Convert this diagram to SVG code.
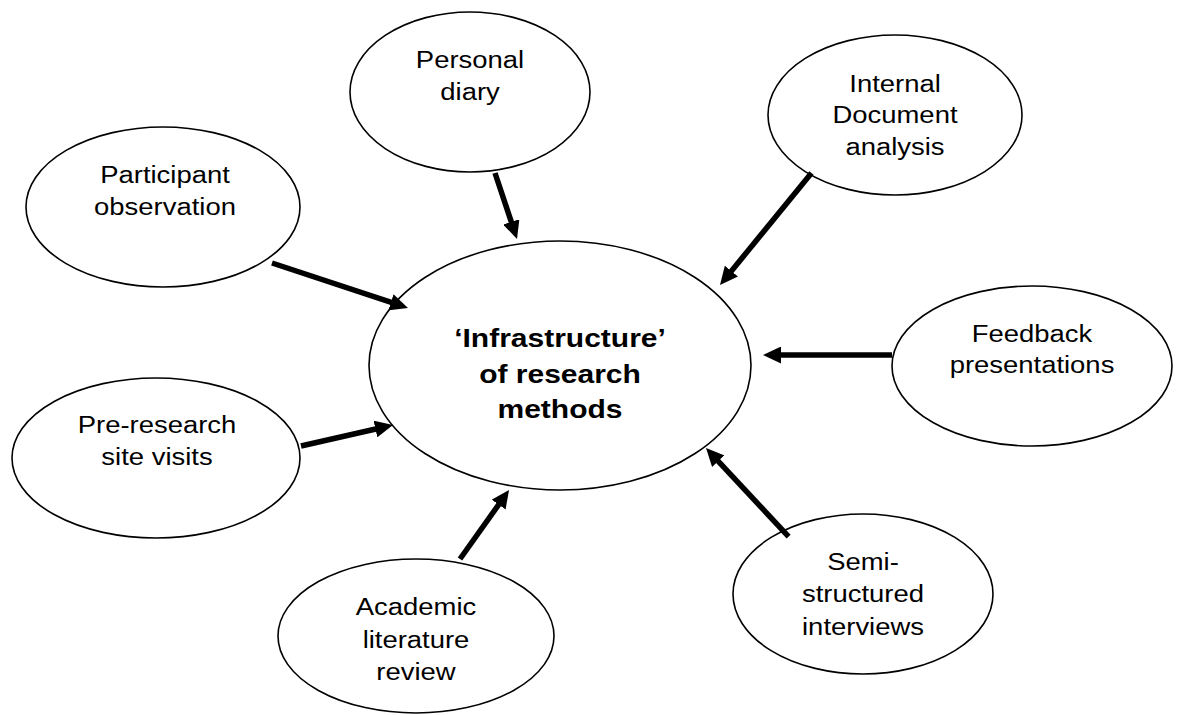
<svg xmlns="http://www.w3.org/2000/svg" width="1181" height="715" viewBox="0 0 1181 715">
<style>
.node ellipse{fill:#fff;stroke:#000;stroke-width:1.6}
.lbl{font-family:"Liberation Sans",Arial,sans-serif;font-size:24.5px;fill:#000;text-anchor:middle}
.ctr{font-weight:bold;font-size:25px}
#connectors line{stroke:#000;stroke-width:5.5;marker-end:url(#ah)}
</style>
<defs>
<marker id="ah" markerUnits="userSpaceOnUse" markerWidth="18" markerHeight="17" refX="6" refY="8.5" orient="auto" viewBox="0 0 18 17"><path d="M0,0 L18,8.5 L0,17 Z" fill="#000"/></marker>
</defs>
<rect width="1181" height="715" fill="#fff"/>
<g id="center" class="node">
<ellipse cx="560" cy="365.5" rx="191" ry="124.5"/>
<text class="lbl ctr" transform="matrix(1.2 0 0 1 560 0)"><tspan x="0" y="347">‘Infrastructure’</tspan><tspan x="0" y="383">of research</tspan><tspan x="0" y="418">methods</tspan></text>
</g>
<g id="personal" class="node">
<ellipse cx="470" cy="92" rx="120" ry="80"/>
<text class="lbl" transform="matrix(1.12 0 0 1 470 0)"><tspan x="0" y="68">Personal</tspan><tspan x="0" y="100">diary</tspan></text>
</g>
<g id="participant" class="node">
<ellipse cx="163" cy="207" rx="137" ry="80"/>
<text class="lbl" transform="matrix(1.12 0 0 1 165 0)"><tspan x="0" y="183">Participant</tspan><tspan x="0" y="215">observation</tspan></text>
</g>
<g id="internal" class="node">
<ellipse cx="895" cy="115" rx="127" ry="80"/>
<text class="lbl" transform="matrix(1.12 0 0 1 895 0)"><tspan x="0" y="92">Internal</tspan><tspan x="0" y="123">Document</tspan><tspan x="0" y="155">analysis</tspan></text>
</g>
<g id="feedback" class="node">
<ellipse cx="1032" cy="366" rx="140" ry="80"/>
<text class="lbl" transform="matrix(1.12 0 0 1 1032 0)"><tspan x="0" y="342">Feedback</tspan><tspan x="0" y="373">presentations</tspan></text>
</g>
<g id="preresearch" class="node">
<ellipse cx="156" cy="458" rx="144" ry="80"/>
<text class="lbl" transform="matrix(1.12 0 0 1 157 0)"><tspan x="0" y="433">Pre-research</tspan><tspan x="0" y="465">site visits</tspan></text>
</g>
<g id="academic" class="node">
<ellipse cx="416" cy="636" rx="138" ry="77"/>
<text class="lbl" transform="matrix(1.12 0 0 1 416 0)"><tspan x="0" y="615">Academic</tspan><tspan x="0" y="648">literature</tspan><tspan x="0" y="680">review</tspan></text>
</g>
<g id="semi" class="node">
<ellipse cx="863" cy="594" rx="130" ry="80"/>
<text class="lbl" transform="matrix(1.12 0 0 1 863 0)"><tspan x="0" y="570">Semi-</tspan><tspan x="0" y="602">structured</tspan><tspan x="0" y="635">interviews</tspan></text>
</g>
<g id="connectors">
<line x1="272" y1="263" x2="396.6" y2="304.2"/>
<line x1="495" y1="173" x2="513.2" y2="227.6"/>
<line x1="811.5" y1="173" x2="727.6" y2="275.7"/>
<line x1="892" y1="355" x2="775" y2="355"/>
<line x1="301" y1="446" x2="381.3" y2="427.7"/>
<line x1="460" y1="559" x2="502.1" y2="499.8"/>
<line x1="788.6" y1="536.7" x2="714.2" y2="456.8"/>
</g>
</svg>
